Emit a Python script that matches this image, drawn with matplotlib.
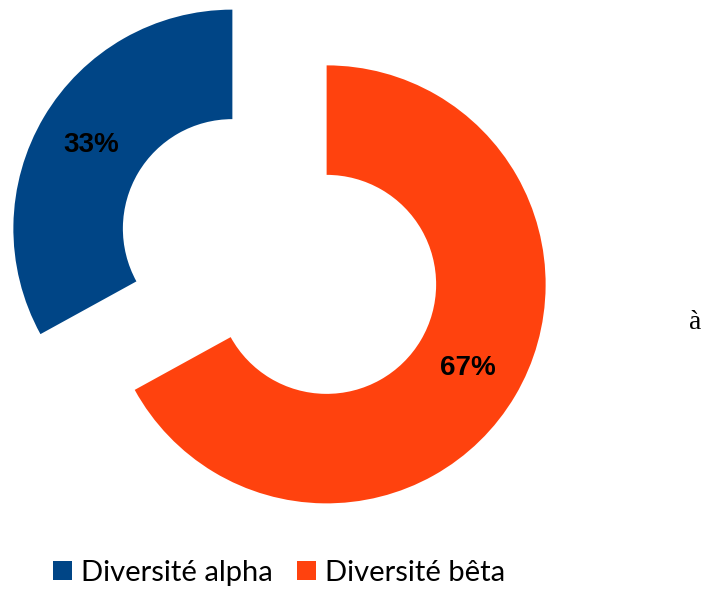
import matplotlib.pyplot as plt
from matplotlib.patches import Patch

labels = ['Diversité alpha', 'Diversité bêta']
values = [33, 67]
colors = ['#004586', '#ff420e']

W, H = 720, 589
R = 219
fig = plt.figure(figsize=(W / 100, H / 100), dpi=100)
ax = fig.add_axes([0, 0, 1, 1])

# pie drawn in pixel-like data units (explode is absolute here)
wedges, texts, autotexts = ax.pie(
    values, colors=colors, startangle=90, counterclock=True,
    explode=[0.25 * R, 0.25 * R], radius=R, center=(279.5, H - 256.5),
    autopct='%1.0f%%', pctdistance=0.75,
    wedgeprops=dict(width=0.5 * R, linewidth=0),
    textprops=dict(fontsize=20, fontweight='bold', color='black',
                   family='Liberation Sans'))
ax.set_xlim(0, W)
ax.set_ylim(0, H)
ax.set_aspect('auto')
ax.axis('off')

handles = [Patch(facecolor=c, edgecolor='none') for c in colors]
fig.legend(handles, labels, loc='center left', bbox_to_anchor=(53 / W, 1 - 573 / H),
           ncol=2, frameon=False, prop=dict(family='Lato', size=21),
           handlelength=0.65, handleheight=0.65, handletextpad=0.3,
           columnspacing=0.85, borderpad=0, borderaxespad=0)

fig.text(695 / W, 1 - 322 / H, 'à', family='Liberation Serif', fontsize=20,
         ha='center', va='center')

fig.savefig('out.png', dpi=100)
